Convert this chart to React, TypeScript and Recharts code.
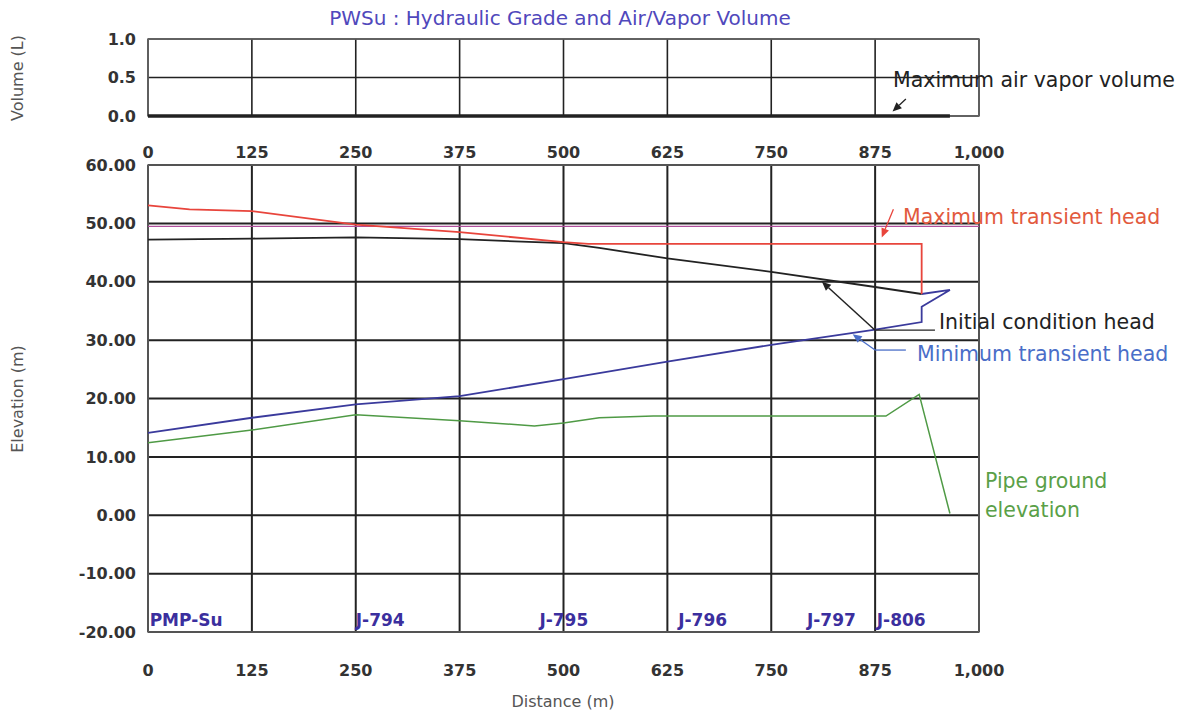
import React from "react"
import {
  ComposedChart,
  Line,
  Scatter,
  XAxis,
  YAxis,
  CartesianGrid,
  ReferenceLine,
  ReferenceArea,
} from "recharts"

const distanceTicks = [0, 125, 250, 375, 500, 625, 750, 875, 1000]
const elevationTicks = [-20, -10, 0, 10, 20, 30, 40, 50, 60]
const volumeTicks = [0, 0.5, 1]

const airVolumeDist = [0, 965]
const airVolumeValue = [0, 0]

const maxHeadDist = [0, 50, 125, 250, 375, 500, 530, 931, 931]
const maxHeadValue = [53.1, 52.4, 52.1, 49.8, 48.5, 46.8, 46.5, 46.5, 37.9]

const initialDist = [0, 125, 250, 375, 500, 543, 625, 750, 875, 931]
const initialValue = [47.2, 47.4, 47.6, 47.3, 46.6, 45.8, 44.0, 41.7, 39.1, 37.9]

const minHeadDist = [0, 125, 250, 375, 500, 625, 750, 875, 931, 931, 965, 931]
const minHeadValue = [14.1, 16.7, 19.0, 20.4, 23.3, 26.3, 29.2, 31.8, 33.1, 35.7, 38.6, 37.9]

const pipeDist = [0, 125, 250, 375, 465, 500, 543, 608, 888, 928, 965]
const pipeValue = [12.4, 14.6, 17.2, 16.2, 15.3, 15.8, 16.7, 17.0, 17.0, 20.7, 0.3]

const nodeNames = ["PMP-Su", "J-794", "J-795", "J-796", "J-797", "J-806"]
const nodeDist = [2, 250, 471, 638, 793, 877]

const zip = (xs: number[], ys: number[]) => xs.map((x, i) => ({ x, y: ys[i] }))

const FONT = "DejaVu Sans, Arial, sans-serif"
const tickStyle = { fill: "#333", fontSize: 16, fontWeight: 700, fontFamily: FONT }

function Arrow(props: any) {
  const { x1, y1, x2, y2, stroke, strokeWidth } = props
  const a = Math.atan2(y2 - y1, x2 - x1)
  const len = 9
  const w = 4
  const bx = x2 - len * Math.cos(a)
  const by = y2 - len * Math.sin(a)
  const px = -Math.sin(a) * w
  const py = Math.cos(a) * w
  return (
    <g>
      <line x1={x1} y1={y1} x2={bx} y2={by} stroke={stroke} strokeWidth={strokeWidth} />
      <polygon points={`${x2},${y2} ${bx + px},${by + py} ${bx - px},${by - py}`} fill={stroke} />
    </g>
  )
}

function Note({ x, y, color, size = 17, children, rotate, center }: any) {
  return (
    <div
      style={{
        position: "absolute",
        left: x,
        top: y,
        color,
        fontSize: size,
        fontFamily: FONT,
        whiteSpace: "nowrap",
        lineHeight: 1,
        transform: `translate(${center || rotate ? "-50%" : "0"}, -50%)${rotate ? " rotate(-90deg)" : ""}`,
      }}
    >
      {children}
    </div>
  )
}

function NodeLabel(props: any) {
  const { cx, cy, payload } = props
  return (
    <text x={cx} y={cy} fill="#3b2f9e" fontSize={17} fontWeight={700} fontFamily={FONT} dominantBaseline="central">
      {payload.name}
    </text>
  )
}

export default function App() {
  const nodes = nodeNames.map((name, i) => ({ x: nodeDist[i], y: -17.9, name }))
  return (
    <div style={{ position: "absolute", left: 0, top: 0, width: 1178, height: 713, background: "#fff" }}>
      <ComposedChart width={1178} height={165} margin={{ top: 39, right: 199, left: 0, bottom: 25 }} style={{ position: "absolute", left: 0, top: 0 }}>
        <CartesianGrid stroke="#222" strokeWidth={1.6} />
        <XAxis
          dataKey="x"
          type="number"
          domain={[0, 1000]}
          ticks={distanceTicks}
          tickFormatter={(v: number) => v.toLocaleString("en-US")}
          tick={tickStyle}
          axisLine={false}
          tickLine={false}
          tickMargin={25}
          height={24}
        />
        <YAxis
          dataKey="y"
          type="number"
          domain={[0, 1]}
          ticks={volumeTicks}
          width={148}
          tickFormatter={(v: number) => v.toFixed(1)}
          tick={tickStyle}
          axisLine={false}
          tickLine={false}
          tickMargin={6}
        />
        <ReferenceArea x1={0} x2={1000} y1={0} y2={1} fill="none" stroke="#666" strokeWidth={1.5} />
        <Line data={zip(airVolumeDist, airVolumeValue)} dataKey="y" stroke="#222" strokeWidth={3.5} dot={false} isAnimationActive={false} />
        <ReferenceLine
          segment={[{ x: 912, y: 0.22 }, { x: 896, y: 0.06 }]}
          stroke="#222"
          strokeWidth={1.3}
          shape={(p: any) => <Arrow {...p} stroke="#222" strokeWidth={1.3} />}
        />
      </ComposedChart>

      <ComposedChart width={1178} height={573} margin={{ top: 25, right: 199, left: 0, bottom: 41 }} style={{ position: "absolute", left: 0, top: 140 }}>
        <CartesianGrid stroke="#222" strokeWidth={2} />
        <XAxis
          dataKey="x"
          type="number"
          domain={[0, 1000]}
          ticks={distanceTicks}
          tickFormatter={(v: number) => v.toLocaleString("en-US")}
          tick={tickStyle}
          axisLine={false}
          tickLine={false}
          tickMargin={27}
          height={40}
        />
        <YAxis
          dataKey="y"
          type="number"
          domain={[-20, 60]}
          ticks={elevationTicks}
          width={148}
          tickFormatter={(v: number) => v.toFixed(2)}
          tick={tickStyle}
          axisLine={false}
          tickLine={false}
          tickMargin={6}
        />
        <ReferenceArea x1={0} x2={1000} y1={-20} y2={60} fill="none" stroke="#666" strokeWidth={1.5} />
        <ReferenceLine y={49.5} stroke="#b0509c" strokeWidth={1.3} />
        <Line data={zip(pipeDist, pipeValue)} dataKey="y" stroke="#4f9a45" strokeWidth={1.5} dot={false} isAnimationActive={false} />
        <Line data={zip(minHeadDist, minHeadValue)} dataKey="y" stroke="#3a3a9c" strokeWidth={1.8} dot={false} isAnimationActive={false} />
        <Line data={zip(initialDist, initialValue)} dataKey="y" stroke="#222" strokeWidth={1.8} dot={false} isAnimationActive={false} />
        <Line data={zip(maxHeadDist, maxHeadValue)} dataKey="y" stroke="#e8453c" strokeWidth={1.8} dot={false} isAnimationActive={false} />
        <Scatter data={nodes} dataKey="y" shape={(p: any) => <NodeLabel {...p} />} isAnimationActive={false} />

        <ReferenceLine segment={[{ x: 947, y: 31.7 }, { x: 875, y: 31.7 }]} stroke="#222" strokeWidth={1.3} />
        <ReferenceLine
          segment={[{ x: 875, y: 31.7 }, { x: 811, y: 40 }]}
          stroke="#222"
          shape={(p: any) => <Arrow {...p} stroke="#222" strokeWidth={1.5} />}
        />
        <ReferenceLine segment={[{ x: 912, y: 28.3 }, { x: 875, y: 28.3 }]} stroke="#4a6ec8" strokeWidth={1.3} />
        <ReferenceLine
          segment={[{ x: 875, y: 28.3 }, { x: 848, y: 31 }]}
          stroke="#4a6ec8"
          shape={(p: any) => <Arrow {...p} stroke="#4a6ec8" strokeWidth={1.3} />}
        />
        <ReferenceLine
          segment={[{ x: 897, y: 52.4 }, { x: 883, y: 47.6 }]}
          stroke="#e8453c"
          shape={(p: any) => <Arrow {...p} stroke="#e8453c" strokeWidth={1.3} />}
        />
      </ComposedChart>

      <Note x={560} y={18} color="#5048bc" size={20} center>PWSu : Hydraulic Grade and Air/Vapor Volume</Note>
      <Note x={893} y={80} color="#222" size={20.5}>Maximum air vapor volume</Note>
      <Note x={903} y={217} color="#e25a3e" size={20.5}>Maximum transient head</Note>
      <Note x={939} y={322} color="#222" size={20.5}>Initial condition head</Note>
      <Note x={917} y={354} color="#4a6ec8" size={20.5}>Minimum transient head</Note>
      <Note x={985} y={481} color="#5aa048" size={20.5}>Pipe ground</Note>
      <Note x={985} y={510} color="#5aa048" size={20.5}>elevation</Note>
      <Note x={18} y={78} color="#555" size={16} rotate>Volume (L)</Note>
      <Note x={18} y={399} color="#555" size={16} rotate>Elevation (m)</Note>
      <Note x={563} y={702} color="#555" size={16} center>Distance (m)</Note>
    </div>
  )
}
